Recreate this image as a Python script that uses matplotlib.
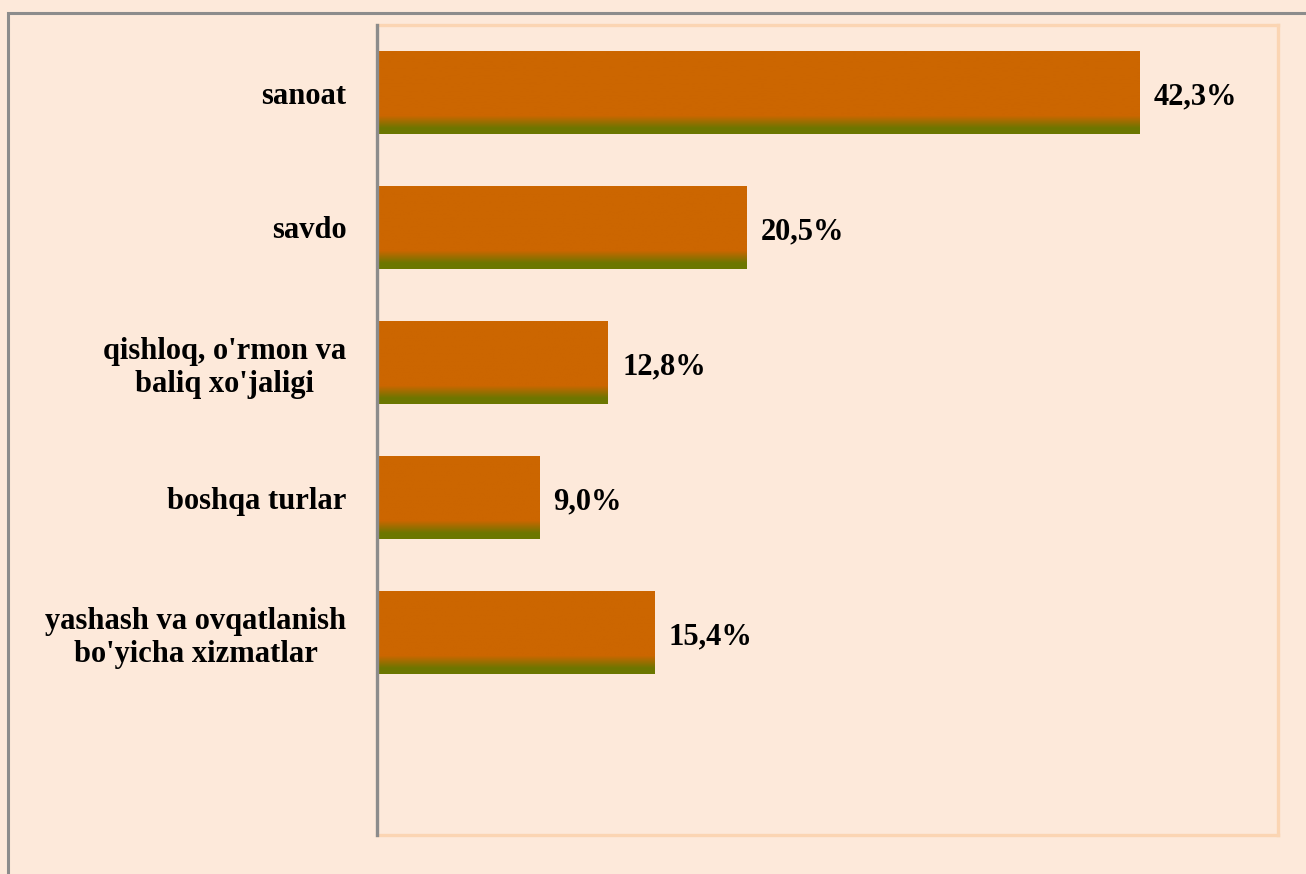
import numpy as np
import matplotlib
matplotlib.use("Agg")
import matplotlib.pyplot as plt
from matplotlib.patches import Rectangle
from matplotlib.colors import LinearSegmentedColormap

categories = ["sanoat", "savdo", "qishloq, o'rmon va\nbaliq xo'jaligi",
              "boshqa turlar", "yashash va ovqatlanish\nbo'yicha xizmatlar"]
values = [42.3, 20.5, 12.8, 9.0, 15.4]
labels = ["42,3%", "20,5%", "12,8%", "9,0%", "15,4%"]

bg = "#FDE9DA"
plt.rcParams['font.family'] = ['Liberation Serif', 'DejaVu Serif']

fig = plt.figure(figsize=(13.06, 8.74), dpi=100)
fig.patch.set_facecolor(bg)
# outer frame (only top and left edges visible)
fig.add_artist(Rectangle((8 / 1306, -0.05), 1.2, 1 - 13 / 874 + 0.05,
                         transform=fig.transFigure, fill=False,
                         edgecolor="#8C8C8C", linewidth=2.2))

ax = fig.add_axes([377 / 1306, 1 - 835 / 874, (1278 - 377) / 1306, (835 - 25) / 874])
ax.set_facecolor(bg)

y = np.arange(len(categories))
bars = ax.barh(y, values, height=0.61, color="#CC6600", zorder=2)

# vertical gradient: olive at the bottom edge, orange above
cmap = LinearSegmentedColormap.from_list(
    "g", [(0, "#6B7800"), (0.07, "#6E7600"), (0.22, "#CC6600"), (1, "#CC6600")])
grad = np.linspace(0, 1, 200).reshape(-1, 1)
for b in bars:
    x0, yb, w, h = b.get_x(), b.get_y(), b.get_width(), b.get_height()
    im = ax.imshow(grad, cmap=cmap, aspect="auto", origin="lower",
                   extent=[x0, x0 + w, yb + h, yb], zorder=3)
    im.set_clip_path(b)

for yi, v, t in zip(y, values, labels):
    ax.text(v + 0.8, yi + 0.03, t, va="center", ha="left",
            fontsize=22, fontweight="bold", color="black")

ax.set_xlim(0, 50)
ax.set_ylim(5.5, -0.5)
ax.set_xticks([])
ax.set_yticks(y)
ax.set_yticklabels(categories, fontsize=22, fontweight="bold",
                   multialignment="center")
ax.tick_params(axis="y", length=0, pad=22)

ax.spines["left"].set_color("#8C8C8C")
ax.spines["left"].set_linewidth(2.4)
ax.spines["left"].set_zorder(5)
for s in ["top", "right", "bottom"]:
    ax.spines[s].set_color("#FBD5B3")
    ax.spines[s].set_linewidth(2.4)

fig.savefig("out.png", dpi=100, facecolor=bg)
